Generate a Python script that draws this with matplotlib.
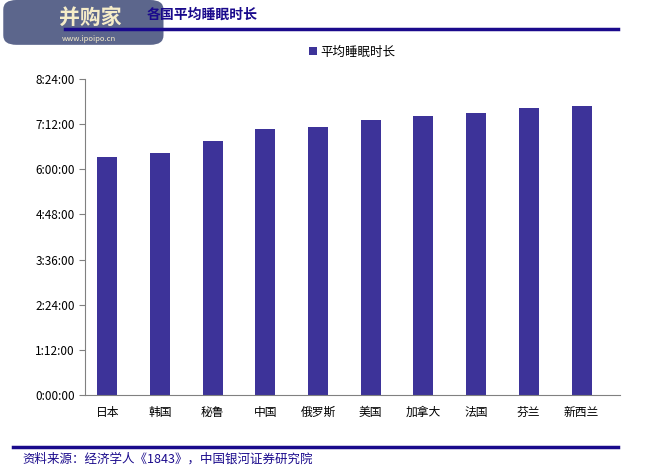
import matplotlib
matplotlib.use("Agg")
import matplotlib.pyplot as plt
from matplotlib.patches import FancyBboxPatch
from matplotlib.lines import Line2D

plt.rcParams['font.family'] = ['Noto Sans CJK SC', 'DejaVu Sans']

categories = ['日本', '韩国', '秘鲁', '中国', '俄罗斯', '美国', '加拿大', '法国', '芬兰', '新西兰']
minutes = [380, 386, 405, 424, 427, 438, 445, 450, 458, 461]
yticks = list(range(0, 505, 72))
ytick_labels = [f"{t//60}:{t%60:02d}:00" for t in yticks]

navy = '#1a0a8c'
bar_color = '#3d3399'

fig = plt.figure(figsize=(6.54, 4.72), dpi=100)
ax = fig.add_axes([0.130, 0.163, 0.818, 0.6695])
ax.bar(range(len(categories)), minutes, width=0.38, color=bar_color, label='平均睡眠时长')
ax.set_xlim(-0.42, len(categories) - 0.27)
ax.set_ylim(0, 504)
ax.set_yticks(yticks)
ax.set_yticklabels(ytick_labels, fontsize=8.5)
ax.set_xticks(range(len(categories)))
ax.set_xticklabels(categories, fontsize=8.5)
for s in ['top', 'right']:
    ax.spines[s].set_visible(False)
for s in ['left', 'bottom']:
    ax.spines[s].set_color('#808080')
ax.tick_params(axis='y', direction='out', length=4, color='#808080')
ax.tick_params(axis='x', length=0, pad=8)
ax.legend(loc='center', bbox_to_anchor=(0.5, 1.085), frameon=False, fontsize=9,
          handlelength=0.6, handleheight=0.6, handletextpad=0.3)

# header
fig.text(0.225, 0.968, '各国平均睡眠时长', fontsize=10, fontweight='bold', color=navy, va='center')
fig.add_artist(Line2D([0.10, 0.945], [0.938, 0.938], color=navy, lw=2.5, transform=fig.transFigure))
box = FancyBboxPatch((0.005, 0.905), 0.245, 0.095, boxstyle='round,pad=0,rounding_size=0.02',
                     transform=fig.transFigure, facecolor='#4a5580', edgecolor='none', alpha=0.9)
fig.add_artist(box)
fig.text(0.09, 0.963, '并购家', fontsize=15, fontweight='bold', color='#f5ecc8', va='center')
fig.text(0.095, 0.918, 'www.ipoipo.cn', fontsize=5.5, color='#f5ecc8', va='center')

# footer
fig.add_artist(Line2D([0.02, 0.945], [0.053, 0.053], color=navy, lw=2.5, transform=fig.transFigure))
fig.text(0.035, 0.028, '资料来源：经济学人《1843》，中国银河证券研究院', fontsize=9, fontstyle='italic',
         color=navy, va='center')

fig.savefig('out.png', dpi=100)
